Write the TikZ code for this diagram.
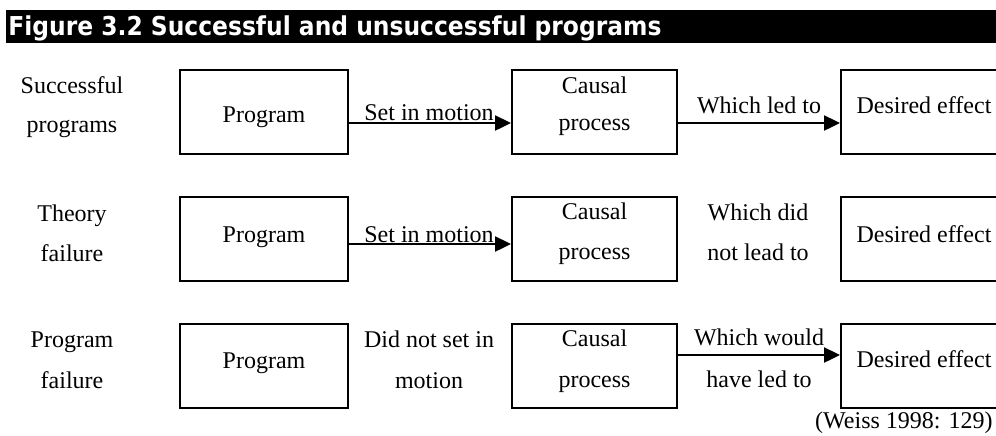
\documentclass[tikz,border=0pt]{standalone}
\usepackage{fontspec}
\setmainfont{Liberation Serif}
\newfontfamily\titlefont{DejaVu Sans}
\usetikzlibrary{arrows.meta}
\tikzset{
  txt/.style={font=\fontsize{12}{14}\selectfont, anchor=base, inner sep=0pt},
  stage/.style={draw, line width=1pt, inner sep=0pt, minimum height=42pt},
  link/.style={line width=1.2pt, -{Triangle[length=8pt,width=7.5pt]}},
}
\begin{document}
\begin{tikzpicture}[x=0.5pt,y=-0.5pt]
  \useasboundingbox (0,0) rectangle (996,435);
  \clip (0,0) rectangle (996,435);
  {
  % Filling background
  \fill[white] (0,0) rectangle (996,435);

  % Drawing title bar
  \fill[black] (6,10) rectangle (996,43);
  \node[anchor=base west, inner sep=0pt, text=white, font=\titlefont\bfseries\fontsize{13}{15}\selectfont] (title) at (8,35) {\scalebox{0.9}[1]{Figure 3.2 Successful and unsuccessful programs}};

  % Drawing boxes, row 1
  \node[stage, minimum width=84pt] (prgA) at (264,112) {};
  \node[stage, minimum width=82.5pt] (cauA) at (594.5,112) {};
  \node[stage, minimum width=80pt] (desA) at (921,112) {};

  % Drawing boxes, row 2
  \node[stage, minimum width=84pt] (prgB) at (264,239) {};
  \node[stage, minimum width=82.5pt] (cauB) at (594.5,239) {};
  \node[stage, minimum width=80pt] (desB) at (921,239) {};

  % Drawing boxes, row 3
  \node[stage, minimum width=84pt] (prgC) at (264,366) {};
  \node[stage, minimum width=82.5pt] (cauC) at (594.5,366) {};
  \node[stage, minimum width=80pt] (desC) at (921,366) {};

  % Marking row labels
  \node[txt] (succA) at (72,93) {Successful};
  \node[txt] (succB) at (72,132) {programs};
  \node[txt] (theoA) at (72,221) {Theory};
  \node[txt] (theoB) at (72,261) {failure};
  \node[txt] (failA) at (72,347) {Program};
  \node[txt] (failB) at (72,388) {failure};

  % Marking box texts
  \node[txt] (prgAt) at (264,122) {Program};
  \node[txt] (prgBt) at (264,242) {Program};
  \node[txt] (prgCt) at (264,368) {Program};
  \node[txt] (cauAt) at (594.5,93) {Causal};
  \node[txt] (cauAu) at (594.5,130) {process};
  \node[txt] (cauBt) at (594.5,219) {Causal};
  \node[txt] (cauBu) at (594.5,259) {process};
  \node[txt] (cauCt) at (594.5,346) {Causal};
  \node[txt] (cauCu) at (594.5,387) {process};
  \node[txt] (desAt) at (924,113) {Desired effect};
  \node[txt] (desBt) at (924,242) {Desired effect};
  \node[txt] (desCt) at (924,367) {Desired effect};

  % Marking connector texts
  \node[txt] (motA) at (429,120) {Set in motion};
  \node[txt] (ledA) at (759,113) {Which led to};
  \node[txt] (motB) at (429,242) {Set in motion};
  \node[txt] (ledB) at (758,220) {Which did};
  \node[txt] (ledBu) at (758,260) {not lead to};
  \node[txt] (motC) at (429,347) {Did not set in};
  \node[txt] (motCu) at (429,388) {motion};
  \node[txt] (ledC) at (759,345) {Which would};
  \node[txt] (ledCu) at (759,387) {have led to};

  % Drawing arrows
  \coordinate (lvlA) at (0,123);
  \coordinate (lvlB) at (0,244);
  \coordinate (lvlC) at (0,355);
  \draw[link] (prgA.east |- lvlA) -- (cauA.west |- lvlA);
  \draw[link] (cauA.east |- lvlA) -- (desA.west |- lvlA);
  \draw[link] (prgB.east |- lvlB) -- (cauB.west |- lvlB);
  \draw[link] (cauC.east |- lvlC) -- (desC.west |- lvlC);

  % Marking source
  \node[txt, anchor=base east] (src) at (993,428) {(Weiss 1998: 129)};
  }
\end{tikzpicture}
\end{document}
